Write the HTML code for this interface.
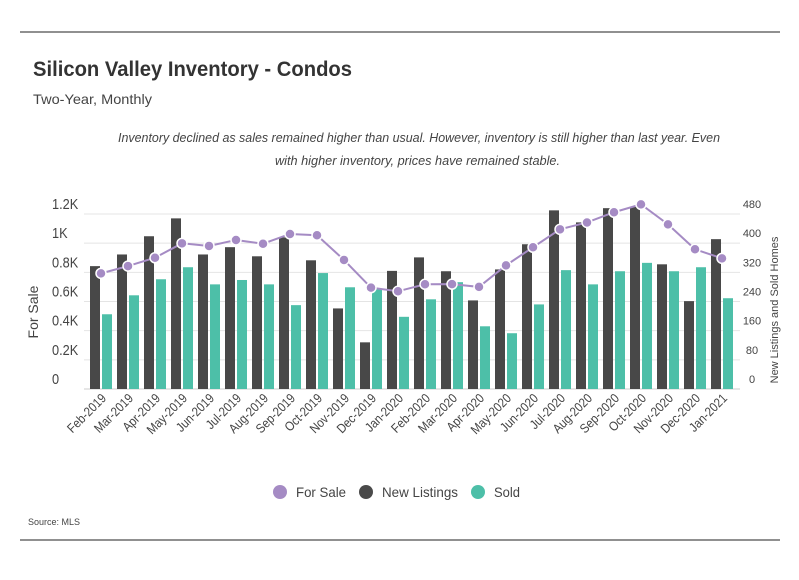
<!DOCTYPE html>
<html><head><meta charset="utf-8"><style>
body{margin:0;background:#fff;font-family:"Liberation Sans",sans-serif;}
svg text{font-family:"Liberation Sans",sans-serif;}
</style></head><body>
<svg id="chart" width="799" height="575" viewBox="0 0 799 575" xmlns="http://www.w3.org/2000/svg">
<line x1="20" y1="32" x2="780" y2="32" stroke="#222" stroke-width="1"/>
<line x1="20" y1="540" x2="780" y2="540" stroke="#222" stroke-width="1"/>
<text x="33" y="76" font-size="21" font-weight="bold" fill="#333" textLength="319" lengthAdjust="spacingAndGlyphs">Silicon Valley Inventory - Condos</text>
<text x="33" y="104" font-size="14" fill="#444" textLength="119" lengthAdjust="spacingAndGlyphs">Two-Year, Monthly</text>
<text x="118" y="142" font-size="13" font-style="italic" fill="#444" textLength="602" lengthAdjust="spacingAndGlyphs">Inventory declined as sales remained higher than usual. However, inventory is still higher than last year. Even</text>
<text x="275" y="165" font-size="13" font-style="italic" fill="#444" textLength="285" lengthAdjust="spacingAndGlyphs">with higher inventory, prices have remained stable.</text>
<g id="grid"></g><g id="bars"></g><g id="line"></g><g id="axes"></g>
<text transform="translate(38,312) rotate(-90)" font-size="14" fill="#444" text-anchor="middle">For Sale</text>
<text transform="translate(778,310) rotate(-90)" font-size="11" fill="#444" text-anchor="middle">New Listings and Sold Homes</text>
<g>
<circle cx="280" cy="492" r="7" fill="#a58bc4"/>
<text x="296" y="497" font-size="14" fill="#444" textLength="50" lengthAdjust="spacingAndGlyphs">For Sale</text>
<circle cx="366" cy="492" r="7" fill="#4a4a4a"/>
<text x="382" y="497" font-size="14" fill="#444" textLength="76" lengthAdjust="spacingAndGlyphs">New Listings</text>
<circle cx="478" cy="492" r="7" fill="#4dbfa8"/>
<text x="494" y="497" font-size="14" fill="#444" textLength="26" lengthAdjust="spacingAndGlyphs">Sold</text>
</g>
<text x="28" y="525" font-size="9" fill="#444">Source:  MLS</text>
</svg>
<script>
const months=["Feb-2019","Mar-2019","Apr-2019","May-2019","Jun-2019","Jul-2019","Aug-2019","Sep-2019","Oct-2019","Nov-2019","Dec-2019","Jan-2020","Feb-2020","Mar-2020","Apr-2020","May-2020","Jun-2020","Jul-2020","Aug-2020","Sep-2020","Oct-2020","Nov-2020","Dec-2020","Jan-2021"];
const forSale=[793,843,900,999,981,1022,996,1063,1054,885,695,670,718,719,700,848,972,1095,1142,1212,1266,1129,958,896];
const newListings=[337,369,419,468,369,389,364,416,353,221,128,324,361,323,243,328,397,490,457,496,500,342,241,411];
const sold=[205,257,301,334,287,299,287,230,318,279,275,198,246,293,172,153,232,326,287,323,346,323,334,249];
const leftTicks=[0,200,400,600,800,1000,1200];
const leftLabels=["0","0.2K","0.4K","0.6K","0.8K","1K","1.2K"];
const rightTicks=[0,80,160,240,320,400,480];
const NS="http://www.w3.org/2000/svg";
const base=389,top0=214;
const yL=v=>base-(base-top0)*v/1200;
const yR=v=>base-(base-top0)*v/480;
const x0=90,step=27;
const xc=i=>x0+step*i+11;
function mk(tag,attrs,parent){const e=document.createElementNS(NS,tag);for(const k in attrs)e.setAttribute(k,attrs[k]);parent.appendChild(e);return e;}
const g=document.getElementById('grid'),b=document.getElementById('bars'),l=document.getElementById('line'),a=document.getElementById('axes');
leftTicks.forEach((t,i)=>{
 const ln=mk('line',{x1:84,x2:740,y1:yL(t),y2:yL(t),stroke:i==0?'#ccc':'#e4e4e4','stroke-width':1},g);
 
 
 const tx=mk('text',{x:52,y:yL(t)-5,'font-size':15,fill:'#444',transform:`translate(52,0) scale(0.85,1) translate(-52,0)`},a);tx.textContent=leftLabels[i];
 
 
});
rightTicks.forEach(t=>{
 const tx=mk('text',{x:752,y:yR(t)-6,'font-size':11,fill:'#444','text-anchor':'middle'},a);tx.textContent=t;
 
 
});
months.forEach((m,i)=>{
 const x=x0+step*i;
 const r1=mk('rect',{x:x,y:yR(newListings[i]),width:10,height:base-yR(newListings[i]),fill:'#484848'},b);
 
 
 const r2=mk('rect',{x:x+12,y:yR(sold[i]),width:10,height:base-yR(sold[i]),fill:'#4dbfa8'},b);
 
 
 const tx=mk('text',{transform:`translate(${xc(i)+6},${399}) rotate(-45) scale(0.88,1)`,'font-size':13,fill:'#444','text-anchor':'end'},a);tx.textContent=m;
 
 
});
const pts=forSale.map((v,i)=>xc(i)+','+yL(v)).join(' ');
const pl=mk('polyline',{points:pts,fill:'none',stroke:'#a58bc4','stroke-width':2},l);


forSale.forEach((v,i)=>{
 const c=mk('circle',{cx:xc(i),cy:yL(v),r:5,fill:'#a58bc4',stroke:'#fff','stroke-width':1.5},l);
 
 
});
</script>
</body></html>
